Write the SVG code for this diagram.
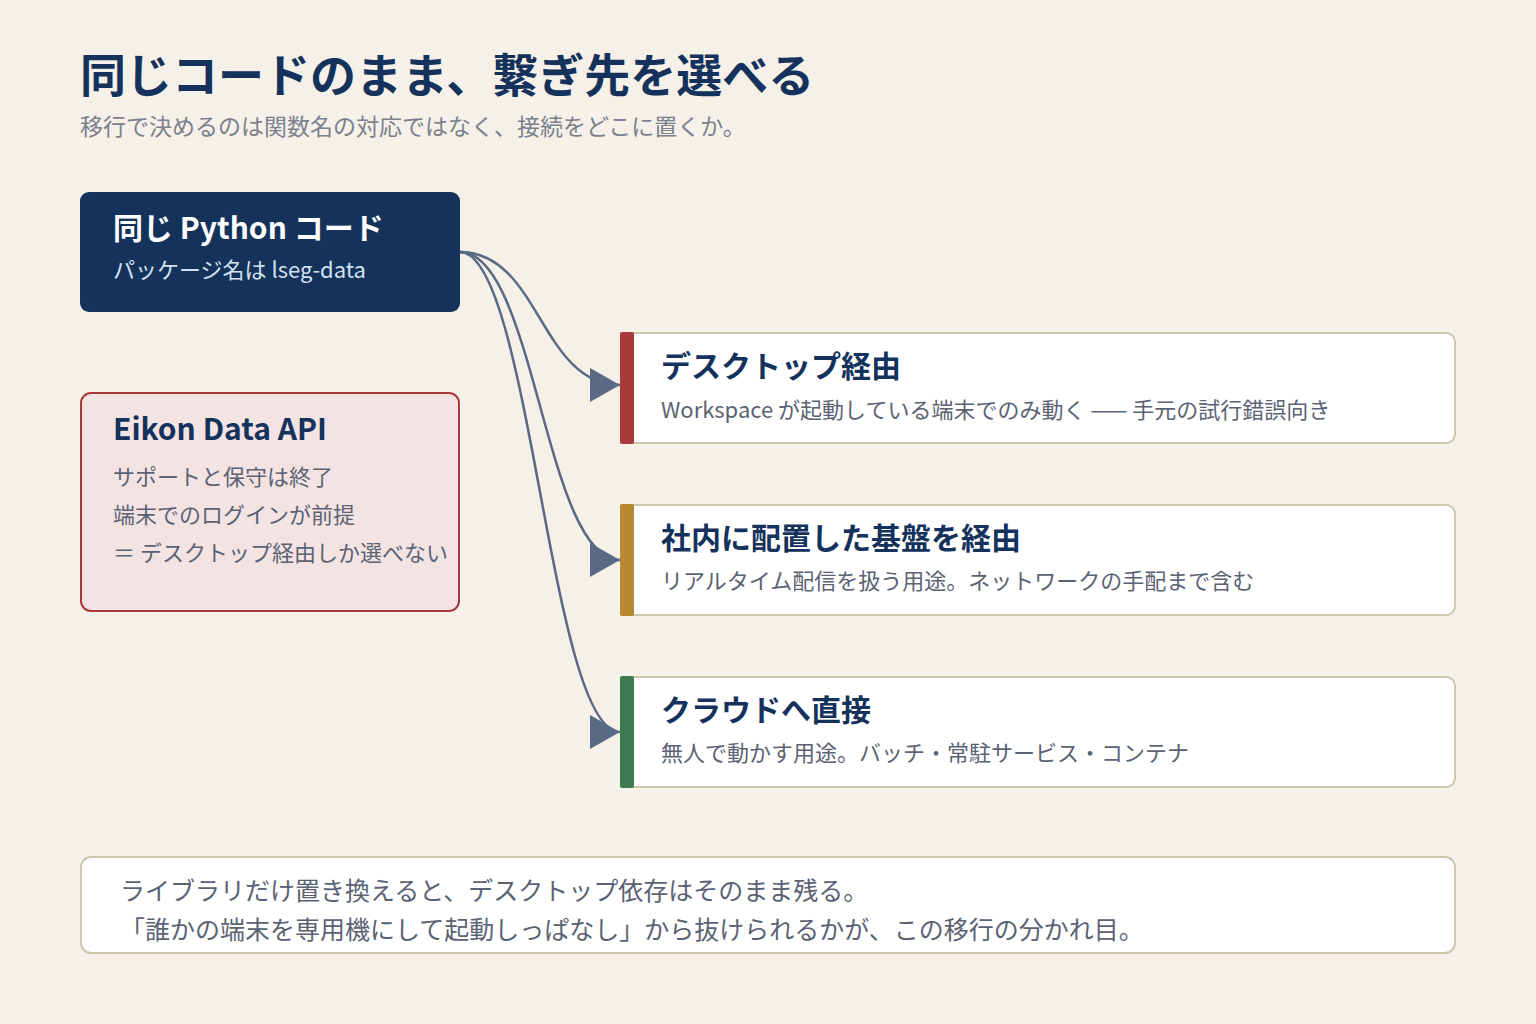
<svg xmlns="http://www.w3.org/2000/svg" width="1536" height="1024" viewBox="0 0 1536 1024">
<defs>
<style>
text{font-family:"Noto Sans CJK JP","Noto Sans",sans-serif;}
.h1{font-size:46px;font-weight:700;fill:#14325c;}
.sub{font-size:23px;fill:#7a818d;}
.ht{font-size:30px;font-weight:700;fill:#14325c;}
.body{font-size:22px;fill:#5b6273;}
.card{fill:#ffffff;stroke:#cfc6b0;stroke-width:2;}
.conn{fill:none;stroke:#5a6a85;stroke-width:2.5;}
</style>
<marker id="arr" viewBox="0 0 30 34" refX="30" refY="17" markerWidth="30" markerHeight="34" markerUnits="userSpaceOnUse" orient="auto">
<path d="M0,0 L30,17 L0,34 Z" fill="#5a6a85"/>
</marker>
</defs>
<rect width="1536" height="1024" fill="#f5f0e8"/>
<g id="title">
<text class="h1" x="80" y="92">同じコードのまま、繋ぎ先を選べる</text>
<text class="sub" x="80" y="135">移行で決めるのは関数名の対応ではなく、接続をどこに置くか。</text>
</g>
<g id="connectors">
<path class="conn" d="M460,252 C540,252 540,385 620,385" marker-end="url(#arr)"/>
<path class="conn" d="M460,252 C535,252 545,560 620,560" marker-end="url(#arr)"/>
<path class="conn" d="M460,252 C530,252 550,732 620,732" marker-end="url(#arr)"/>
</g>
<g id="python">
<rect x="80" y="192" width="380" height="120" rx="9" fill="#14325a"/>
<text x="113" y="239" style="font-size:30px;font-weight:700;fill:#ffffff">同じ Python コード</text>
<text x="113" y="278" style="font-size:22px;fill:#d3e2f2">パッケージ名は lseg-data</text>
</g>
<g id="eikon">
<rect x="81" y="393" width="378" height="218" rx="10" fill="#f3e3e3" stroke="#a83a3a" stroke-width="2"/>
<text class="ht" x="113" y="440">Eikon Data API</text>
<text class="body" x="113" y="485">サポートと保守は終了</text>
<text class="body" x="113" y="523">端末でのログインが前提</text>
<text class="body" x="113" y="561">＝ デスクトップ経由しか選べない</text>
</g>
<g id="desktop">
<rect class="card" x="621" y="333" width="834" height="110" rx="9"/>
<rect x="620" y="332" width="14" height="112" rx="2" fill="#a83a3a"/>
<text class="ht" x="661" y="377">デスクトップ経由</text>
<text class="body" x="661" y="418">Workspace が起動している端末でのみ動く —— 手元の試行錯誤向き</text>
</g>
<g id="onprem">
<rect class="card" x="621" y="505" width="834" height="110" rx="9"/>
<rect x="620" y="504" width="14" height="112" rx="2" fill="#b8892e"/>
<text class="ht" x="661" y="549">社内に配置した基盤を経由</text>
<text class="body" x="661" y="589">リアルタイム配信を扱う用途。ネットワークの手配まで含む</text>
</g>
<g id="cloud">
<rect class="card" x="621" y="677" width="834" height="110" rx="9"/>
<rect x="620" y="676" width="14" height="112" rx="2" fill="#3d7a50"/>
<text class="ht" x="661" y="721">クラウドへ直接</text>
<text class="body" x="661" y="761">無人で動かす用途。バッチ・常駐サービス・コンテナ</text>
</g>
<g id="note">
<rect class="card" x="81" y="857" width="1374" height="96" rx="10"/>
<text x="120" y="900" style="font-size:25px;fill:#5b6273">ライブラリだけ置き換えると、デスクトップ依存はそのまま残る。</text>
<text x="120" y="939" style="font-size:25px;fill:#5b6273">「誰かの端末を専用機にして起動しっぱなし」から抜けられるかが、この移行の分かれ目。</text>
</g>
</svg>
